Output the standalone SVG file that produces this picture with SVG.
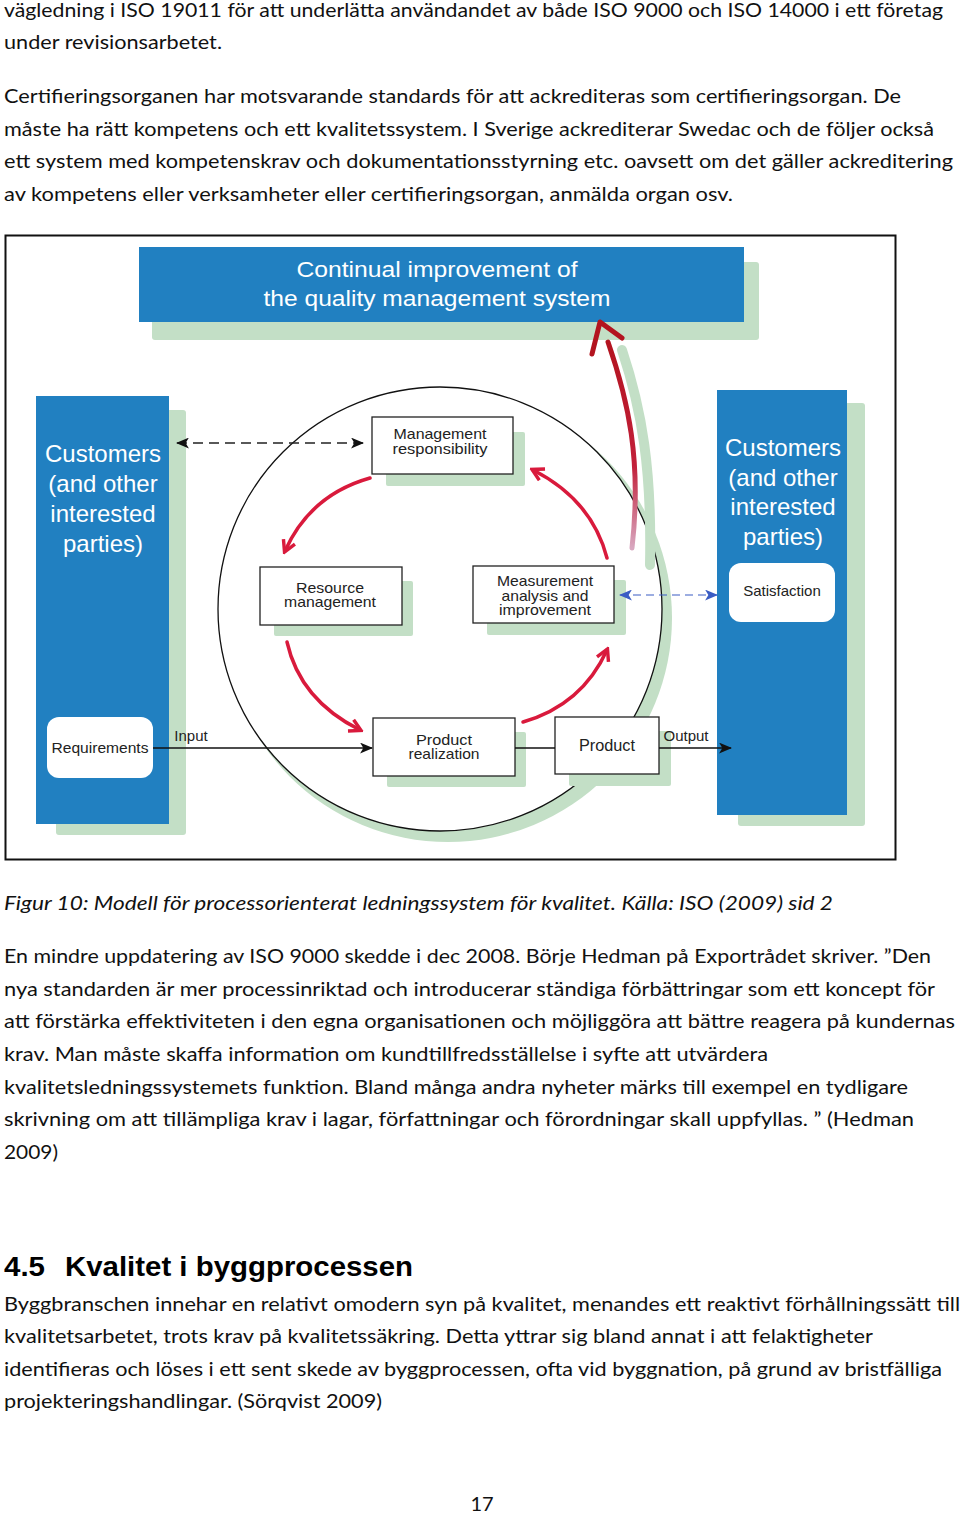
<svg xmlns="http://www.w3.org/2000/svg" width="960" height="1515" viewBox="0 0 960 1515">
<defs>
<style>
.body{font-family:Lato,"Liberation Sans",sans-serif;font-size:20px;fill:#111}
.cap{font-family:Lato,"Liberation Sans",sans-serif;font-size:20px;font-style:italic;fill:#111}
.h{font-family:"Liberation Sans",Arial,sans-serif;font-size:28px;font-weight:bold;fill:#000}
.dg{font-family:"Liberation Sans",Arial,sans-serif;fill:#222;text-anchor:middle}
.bt{font-size:15px}
.wt{font-family:"Liberation Sans",Arial,sans-serif;fill:#fff;text-anchor:middle;font-size:24px}
.blue{fill:#2180c1}
.sh{fill:#c3dfc6}
.box{fill:#fff;stroke:#222;stroke-width:1.3}
.red{fill:none;stroke:#d91a3c;stroke-width:3.5;stroke-linecap:round;marker-end:url(#ra)}
</style>
<marker id="ra" viewBox="0 0 14 14" refX="11" refY="7" markerWidth="16" markerHeight="16" markerUnits="userSpaceOnUse" orient="auto">
<path d="M2,1.5 L12,7 L2,12.5" fill="none" stroke="#d91a3c" stroke-width="3" stroke-linejoin="miter"/>
</marker>
<marker id="ba" viewBox="0 0 12 10" refX="11" refY="5" markerWidth="13" markerHeight="11" markerUnits="userSpaceOnUse" orient="auto-start-reverse">
<path d="M0,0 L12,5 L0,10 L3,5 Z" fill="#111"/>
</marker>
<marker id="bb" viewBox="0 0 12 10" refX="11" refY="5" markerWidth="13" markerHeight="11" markerUnits="userSpaceOnUse" orient="auto-start-reverse">
<path d="M0,0 L12,5 L0,10 L3,5 Z" fill="#3a5cc4"/>
</marker>
<linearGradient id="bigred" x1="0" y1="0" x2="0" y2="1">
<stop offset="0" stop-color="#b3141f"/>
<stop offset="0.6" stop-color="#c2203a"/>
<stop offset="1" stop-color="#d8a8c0"/>
</linearGradient>
</defs>
<rect width="960" height="1515" fill="#fff"/>

<g id="text-top">
<text class="body" x="4" y="17" textLength="939" lengthAdjust="spacingAndGlyphs">vägledning i ISO 19011 för att underlätta användandet av både ISO 9000 och ISO 14000 i ett företag</text>
<text class="body" x="4" y="49" textLength="218" lengthAdjust="spacingAndGlyphs">under revisionsarbetet.</text>
<text class="body" x="4" y="103" textLength="897" lengthAdjust="spacingAndGlyphs">Certifieringsorganen har motsvarande standards för att ackrediteras som certifieringsorgan. De</text>
<text class="body" x="4" y="136" textLength="930" lengthAdjust="spacingAndGlyphs">måste ha rätt kompetens och ett kvalitetssystem. I Sverige ackrediterar Swedac och de följer också</text>
<text class="body" x="4" y="168" textLength="949" lengthAdjust="spacingAndGlyphs">ett system med kompetenskrav och dokumentationsstyrning etc. oavsett om det gäller ackreditering</text>
<text class="body" x="4" y="201" textLength="729" lengthAdjust="spacingAndGlyphs">av kompetens eller verksamheter eller certifieringsorgan, anmälda organ osv.</text>
</g>

<rect x="5.5" y="235.5" width="890" height="624" fill="#fff" stroke="#111" stroke-width="2"/>

<g id="header">
<rect class="sh" x="152" y="262" width="607" height="78" rx="3"/>
<rect class="blue" x="139" y="247" width="605" height="75"/>
<text class="dg" x="437" y="277" style="fill:#fff;font-size:22px" textLength="281" lengthAdjust="spacingAndGlyphs">Continual improvement of</text>
<text class="dg" x="437" y="306" style="fill:#fff;font-size:22px" textLength="347" lengthAdjust="spacingAndGlyphs">the quality management system</text>
</g>

<g id="customers-left">
<rect class="sh" x="56" y="410" width="130" height="425" rx="3"/>
<rect class="blue" x="36" y="396" width="133" height="428"/>
<text class="wt" x="103" y="462">Customers</text>
<text class="wt" x="103" y="492">(and other</text>
<text class="wt" x="103" y="522">interested</text>
<text class="wt" x="103" y="552">parties)</text>
</g>
<g id="requirements">
<rect x="47" y="717" width="106" height="61" rx="12" fill="#fff"/>
<text class="dg" x="100" y="753" style="font-size:15px" textLength="97" lengthAdjust="spacingAndGlyphs">Requirements</text>
</g>

<g id="customers-right">
<rect class="sh" x="738" y="403" width="127" height="423" rx="3"/>
<rect class="blue" x="717" y="390" width="130" height="425"/>
<text class="wt" x="783" y="456">Customers</text>
<text class="wt" x="783" y="486">(and other</text>
<text class="wt" x="783" y="515">interested</text>
<text class="wt" x="783" y="545">parties)</text>
</g>
<g id="satisfaction">
<rect x="729" y="563" width="106" height="59" rx="12" fill="#fff"/>
<text class="dg" x="782" y="596" style="font-size:15px">Satisfaction</text>
</g>

<g id="cycle">
<circle cx="448" cy="618" r="224" fill="#c3dfc6"/>
<circle cx="440" cy="609" r="222" fill="#fff" stroke="#111" stroke-width="1.3"/>
</g>

<g id="big-arrow">
<path d="M622,350 C642,410 652,470 650,565" fill="none" stroke="#c3dfc6" stroke-width="10" stroke-linecap="round"/>
<path d="M608,342 C628,400 642,460 632,548" fill="none" stroke="url(#bigred)" stroke-width="5" stroke-linecap="round"/>
<path d="M592,354 L600,322 L622,338" fill="none" stroke="#b3141f" stroke-width="5" stroke-linejoin="round" stroke-linecap="round"/>
</g>

<g id="management">
<rect class="sh" x="386" y="432" width="139" height="54" rx="2"/>
<rect class="box" x="372" y="417" width="141" height="57"/>
<text class="dg bt" x="440" y="439" textLength="93" lengthAdjust="spacingAndGlyphs">Management</text>
<text class="dg bt" x="440" y="454" textLength="95" lengthAdjust="spacingAndGlyphs">responsibility</text>
</g>
<g id="resource">
<rect class="sh" x="274" y="581" width="139" height="55" rx="2"/>
<rect class="box" x="260" y="567" width="142" height="58"/>
<text class="dg bt" x="330" y="593" textLength="68" lengthAdjust="spacingAndGlyphs">Resource</text>
<text class="dg bt" x="330" y="607" textLength="92" lengthAdjust="spacingAndGlyphs">management</text>
</g>
<g id="measurement">
<rect class="sh" x="487" y="580" width="139" height="55" rx="2"/>
<rect class="box" x="473" y="566" width="141" height="57"/>
<text class="dg bt" x="545" y="586" textLength="96" lengthAdjust="spacingAndGlyphs">Measurement</text>
<text class="dg bt" x="545" y="601" textLength="87" lengthAdjust="spacingAndGlyphs">analysis and</text>
<text class="dg bt" x="545" y="615" textLength="92" lengthAdjust="spacingAndGlyphs">improvement</text>
</g>
<g id="product-realization">
<rect class="sh" x="387" y="732" width="139" height="55" rx="2"/>
<rect class="box" x="373" y="718" width="142" height="58"/>
<text class="dg bt" x="444" y="745" textLength="56" lengthAdjust="spacingAndGlyphs">Product</text>
<text class="dg bt" x="444" y="759" textLength="71" lengthAdjust="spacingAndGlyphs">realization</text>
</g>
<g id="product">
<rect class="sh" x="569" y="731" width="102" height="55" rx="2"/>
<rect class="box" x="555" y="717" width="104" height="57"/>
<text class="dg" x="607" y="751" style="font-size:16px" textLength="56" lengthAdjust="spacingAndGlyphs">Product</text>
</g>

<g id="connectors">
<path d="M177,443 L363,443" fill="none" stroke="#222" stroke-width="1.4" stroke-dasharray="10,6" marker-start="url(#ba)" marker-end="url(#ba)"/>
<path d="M620,595 L717,595" fill="none" stroke="#3a5cc4" stroke-width="1.2" stroke-dasharray="8,5" marker-start="url(#bb)" marker-end="url(#bb)"/>
<path d="M153,748 L372,748" fill="none" stroke="#111" stroke-width="1.3" marker-end="url(#ba)"/>
<path d="M515,748 L555,748" fill="none" stroke="#111" stroke-width="1.3"/>
<path d="M659,748 L731,748" fill="none" stroke="#111" stroke-width="1.3" marker-end="url(#ba)"/>
<text class="dg" x="191" y="741" style="font-size:15px">Input</text>
<text class="dg" x="686" y="741" style="font-size:15px">Output</text>
<path class="red" d="M370,478 Q310,495 285,551"/>
<path class="red" d="M287,642 Q300,700 360,730"/>
<path class="red" d="M523,722 Q582,705 607,650"/>
<path class="red" d="M607,558 Q592,500 533,470"/>
</g>

<g id="text-bottom">
<text class="cap" x="4" y="910" textLength="829" lengthAdjust="spacingAndGlyphs">Figur 10: Modell för processorienterat ledningssystem för kvalitet. Källa: ISO (2009) sid 2</text>
<text class="body" x="4" y="963" textLength="927" lengthAdjust="spacingAndGlyphs">En mindre uppdatering av ISO 9000 skedde i dec 2008. Börje Hedman på Exportrådet skriver. ”Den</text>
<text class="body" x="4" y="996" textLength="931" lengthAdjust="spacingAndGlyphs">nya standarden är mer processinriktad och introducerar ständiga förbättringar som ett koncept för</text>
<text class="body" x="4" y="1028" textLength="951" lengthAdjust="spacingAndGlyphs">att förstärka effektiviteten i den egna organisationen och möjliggöra att bättre reagera på kundernas</text>
<text class="body" x="4" y="1061" textLength="764" lengthAdjust="spacingAndGlyphs">krav. Man måste skaffa information om kundtillfredsställelse i syfte att utvärdera</text>
<text class="body" x="4" y="1094" textLength="904" lengthAdjust="spacingAndGlyphs">kvalitetsledningssystemets funktion. Bland många andra nyheter märks till exempel en tydligare</text>
<text class="body" x="4" y="1126" textLength="910" lengthAdjust="spacingAndGlyphs">skrivning om att tillämpliga krav i lagar, författningar och förordningar skall uppfyllas. ” (Hedman</text>
<text class="body" x="4" y="1159" textLength="54" lengthAdjust="spacingAndGlyphs">2009)</text>
<text class="h" x="4" y="1276" textLength="41" lengthAdjust="spacingAndGlyphs">4.5</text>
<text class="h" x="65" y="1276" textLength="348" lengthAdjust="spacingAndGlyphs">Kvalitet i byggprocessen</text>
<text class="body" x="4" y="1311" textLength="956" lengthAdjust="spacingAndGlyphs">Byggbranschen innehar en relativt omodern syn på kvalitet, menandes ett reaktivt förhållningssätt till</text>
<text class="body" x="4" y="1343" textLength="869" lengthAdjust="spacingAndGlyphs">kvalitetsarbetet, trots krav på kvalitetssäkring. Detta yttrar sig bland annat i att felaktigheter</text>
<text class="body" x="4" y="1376" textLength="938" lengthAdjust="spacingAndGlyphs">identifieras och löses i ett sent skede av byggprocessen, ofta vid byggnation, på grund av bristfälliga</text>
<text class="body" x="4" y="1408" textLength="378" lengthAdjust="spacingAndGlyphs">projekteringshandlingar. (Sörqvist 2009)</text>
<text class="body" x="482" y="1511" text-anchor="middle">17</text>
</g>
</svg>
